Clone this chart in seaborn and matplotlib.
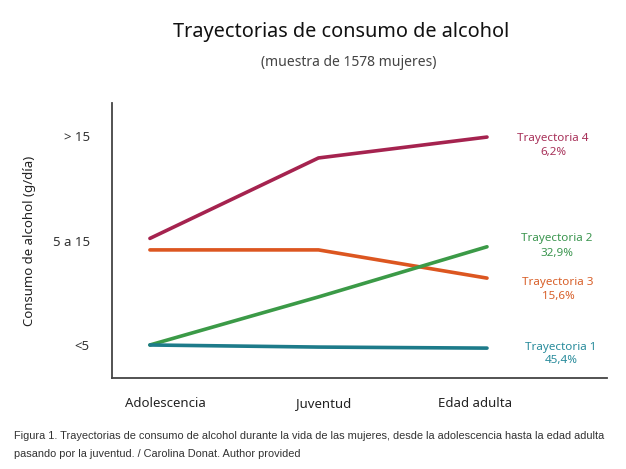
import matplotlib
matplotlib.use("Agg")
import matplotlib.pyplot as plt
import seaborn as sns
import pandas as pd

etapas = ["Adolescencia", "Juventud", "Edad adulta"]
niveles = ["<5", "5 a 15", "> 15"]
trayectorias = ["Trayectoria 4", "Trayectoria 3", "Trayectoria 2", "Trayectoria 1"]
porcentajes = ["6,2%", "15,6%", "32,9%", "45,4%"]
t4 = [1.02, 1.79, 1.99]
t3 = [0.91, 0.91, 0.64]
t2 = [0.00, 0.46, 0.94]
t1 = [0.00, -0.02, -0.03]
colores = ["#a5234f", "#dc5620", "#3b9a47", "#1d7b8a"]
colores_texto = ["#a8325a", "#d8602a", "#3c9650", "#2a8c9c"]

sns.set_theme(style="white")
plt.rcParams['font.family'] = ['Noto Sans', 'DejaVu Sans']

rows = []
for name, vals in zip(trayectorias, [t4, t3, t2, t1]):
    for i, v in enumerate(vals):
        rows.append({"etapa": i, "valor": v, "tray": name})
df = pd.DataFrame(rows)

fig = plt.figure(figsize=(6.26, 4.69), dpi=100)
ax = fig.add_axes([112/626, (469-378)/469, (607-112)/626, (378-103)/469])
sns.lineplot(data=df, x="etapa", y="valor", hue="tray", palette=colores,
             hue_order=trayectorias, linewidth=2.6, legend=False, ax=ax,
             solid_capstyle="round")

ax.set_xlim(-0.225, 2.712)
ax.set_ylim(-0.316, 2.316)
ax.set_yticks([0, 1, 2])
ax.set_yticklabels(niveles, fontsize=9.5, color="#333333")
ax.set_xticks([0.095, 1.03, 1.93])
ax.set_xticklabels(etapas, fontsize=9.5, color="#222222")
ax.tick_params(axis="y", length=0, pad=16)
ax.tick_params(axis="x", length=0, pad=14)
ax.set_xlabel("")
ax.set_ylabel("Consumo de alcohol (g/día)", fontsize=9.5, color="#222222", labelpad=12)
for s in ["top", "right"]:
    ax.spines[s].set_visible(False)
for s in ["left", "bottom"]:
    ax.spines[s].set_color("#444444")
    ax.spines[s].set_linewidth(1.3)

# right-hand labels
label_pos = [(553, 138), (558, 283), (557, 239), (561, 347)]
for name, pct, col, (px, py) in zip(trayectorias, porcentajes, colores_texto, label_pos):
    fig.text(px/626, 1 - py/469, name, ha="center", va="center", fontsize=8.4, color=col)
    fig.text(px/626, 1 - (py+14)/469, pct, ha="center", va="center", fontsize=8.4, color=col)

fig.text(341/626, 1 - 32/469, "Trayectorias de consumo de alcohol", ha="center", va="center",
         fontsize=14.3, color="#111111")
fig.text(349/626, 1 - 62/469, "(muestra de 1578 mujeres)", ha="center", va="center",
         fontsize=10, color="#444444")

cap = ("Figura 1. Trayectorias de consumo de alcohol durante la vida de las mujeres, desde la adolescencia hasta la edad adulta\n"
       "pasando por la juventud. / Carolina Donat. Author provided")
fig.text(14/626, 1 - 431/469, cap, ha="left", va="top", fontsize=7.95, color="#333333",
         family=["Liberation Sans", "DejaVu Sans"], linespacing=1.95)

fig.savefig("out.png", dpi=100)
